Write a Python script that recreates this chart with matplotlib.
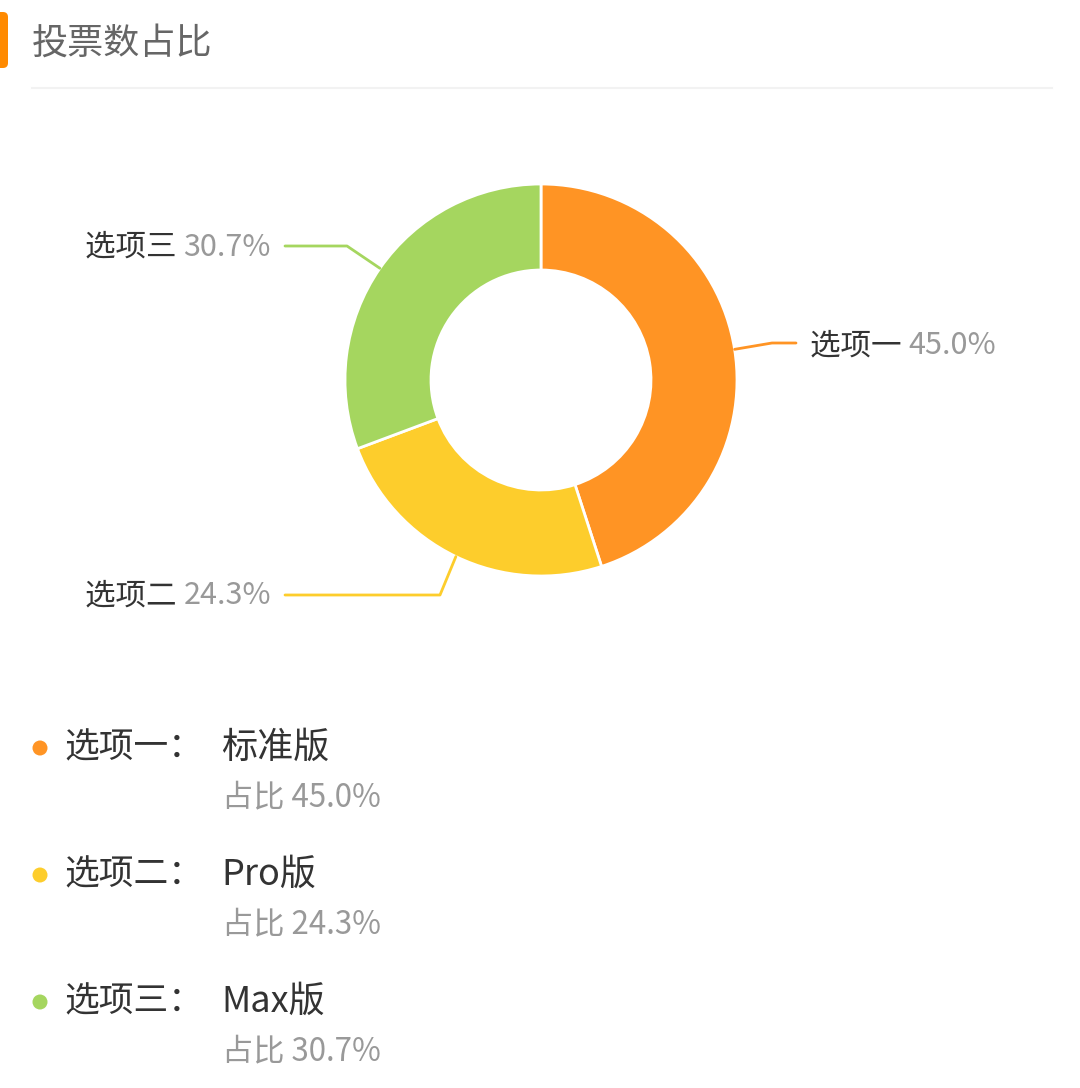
import numpy as np
import matplotlib.pyplot as plt
from matplotlib.patches import FancyBboxPatch, Circle

plt.rcParams['font.family'] = ['Noto Sans CJK SC', 'DejaVu Sans']

# 数据
labels = ['选项一', '选项二', '选项三']
names = ['标准版', 'Pro版', 'Max版']
shares = [45.0, 24.3, 30.7]
colors = ['#FF9424', '#FDCD2C', '#A5D65F']
title = '投票数占比'

W, H = 1080, 1088
fig = plt.figure(figsize=(W / 100, H / 100), dpi=100)
ax = fig.add_axes([0, 0, 1, 1])
ax.set_xlim(0, W)
ax.set_ylim(0, H)
ax.set_aspect('equal')
ax.axis('off')

def Y(py):  # 像素坐标(自上而下) -> 数据坐标
    return H - py

# 标题
ax.add_patch(FancyBboxPatch((-6, Y(68)), 14, 56, boxstyle='round,pad=0,rounding_size=5',
                            fc='#FF8A00', ec='none'))
ax.text(32, Y(44), title, fontsize=26, color='#666666', va='center', ha='left')
ax.plot([32, 1052], [Y(88), Y(88)], color='#F2F2F2', lw=1.5)

# 环形图
cx, cy, r_out, r_in = 541, Y(380), 196, 110
wedges, _ = ax.pie(shares, colors=colors, startangle=90, counterclock=False,
                   center=(cx, cy), radius=r_out, frame=True,
                   wedgeprops=dict(width=r_out - r_in, edgecolor='white', linewidth=2))
ax.set_xlim(0, W)
ax.set_ylim(0, H)
ax.axis('off')

# 引导线 + 标签
bends = [(772, 343), (440, 595), (347, 246)]
ends = [(796, 343), (285, 595), (285, 246)]
fs = 22
cum = np.cumsum([0] + shares)
for i in range(3):
    mid = (cum[i] + cum[i + 1]) / 2 / 100 * 360
    ang = np.deg2rad(90 - mid)
    px, py = cx + r_out * np.cos(ang), cy + r_out * np.sin(ang)
    bx, by = bends[i]
    ex, ey = ends[i]
    ax.plot([px, bx, ex], [py, Y(by), Y(ey)], color=colors[i], lw=2, solid_capstyle='round')
    if ex > cx:
        t = ax.text(ex + 14, Y(ey + 3), labels[i] + ' ', fontsize=fs, color='#333333', va='center', ha='left')
        ax.annotate(f'{shares[i]:.1f}%', xy=(1, 0.5), xycoords=t, fontsize=fs, color='#999999',
                    va='center', ha='left')
    else:
        t = ax.text(ex - 14, Y(ey + 1), f'{shares[i]:.1f}%', fontsize=fs, color='#999999', va='center', ha='right')
        ax.annotate(labels[i] + ' ', xy=(0, 0.5), xycoords=t, fontsize=fs, color='#333333',
                    va='center', ha='right')

# 图例
rows = [748, 875, 1002]
for i in range(3):
    yy = rows[i]
    ax.add_patch(Circle((40, Y(yy)), 7.5, fc=colors[i], ec='none'))
    ax.text(64, Y(yy), labels[i] + '：', fontsize=25, color='#333333', va='center', ha='left')
    ax.text(221, Y(yy), names[i], fontsize=26, color='#333333', va='center', ha='left')
    ax.text(222, Y(yy + 49), f'占比 {shares[i]:.1f}%', fontsize=22.5, color='#999999', va='center', ha='left')

fig.savefig('out.png', dpi=100, facecolor='white')
